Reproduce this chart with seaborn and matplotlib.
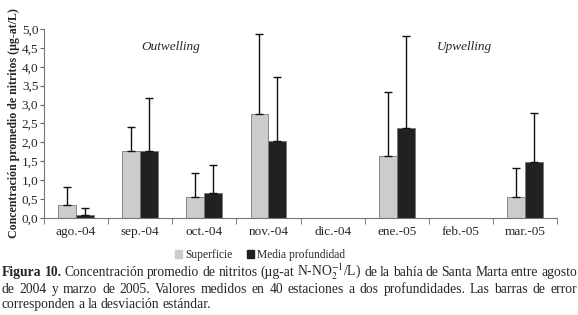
import numpy as np
import pandas as pd
import matplotlib
matplotlib.use("Agg")
import matplotlib.pyplot as plt
import seaborn as sns
from matplotlib.ticker import FixedLocator, FuncFormatter

# Data (dic.-04 and feb.-05 have no samples)
meses = ['ago.-04', 'sep.-04', 'oct.-04', 'nov.-04', 'dic.-04', 'ene.-05', 'feb.-05', 'mar.-05']
superficie = [0.35, 1.77, 0.55, 2.75, np.nan, 1.65, np.nan, 0.55]
superficie_de = [0.47, 0.63, 0.65, 2.12, np.nan, 1.69, np.nan, 0.77]
media = [0.08, 1.77, 0.67, 2.04, np.nan, 2.38, np.nan, 1.47]
media_de = [0.19, 1.40, 0.73, 1.70, np.nan, 2.44, np.nan, 1.32]
series = ['Superficie', 'Media profundidad']

df = pd.DataFrame({
    'mes': meses * 2,
    'valor': superficie + media,
    'serie': [series[0]] * len(meses) + [series[1]] * len(meses),
})

sns.set_style('white')
plt.rcParams['font.family'] = ['Liberation Serif', 'DejaVu Serif']
plt.rcParams['mathtext.fontset'] = 'stix'

fig = plt.figure(figsize=(5.78, 3.15), dpi=100)
ax = fig.add_axes([0.076, 0.308, 0.888, 0.6])

colores = {series[0]: '#cccccc', series[1]: '#231f20'}
sns.barplot(data=df, x='mes', y='valor', hue='serie', palette=colores,
            errorbar=None, width=0.56, gap=0, ax=ax, order=meses,
            hue_order=series, edgecolor='#777777', linewidth=0.6, legend=False)

# upper-only error bars, matched to bars by category position
for cont, de in zip(ax.containers, [superficie_de, media_de]):
    for bar in cont:
        h = bar.get_height()
        xc = bar.get_x() + bar.get_width() / 2
        i = int(round(xc))
        e = de[i]
        if np.isnan(h) or np.isnan(e):
            continue
        ax.errorbar(xc, h, yerr=[[0], [e]], fmt='none', ecolor='#111111',
                    elinewidth=1, capsize=3, capthick=1)

ax.set_ylim(0, 5.0)
ax.set_xlim(-0.5, len(meses) - 0.5)
ax.set_yticks(np.arange(0, 5.01, 0.5))
ax.yaxis.set_major_formatter(FuncFormatter(lambda v, p: f'{v:.1f}'.replace('.', ',')))
ax.xaxis.set_minor_locator(FixedLocator(np.arange(-0.5, len(meses), 1.0)))
ax.tick_params(axis='x', which='major', length=0, labelsize=9.5, pad=6)
ax.tick_params(axis='x', which='minor', length=4, color='#666666', direction='out')
ax.tick_params(axis='y', length=3, color='#666666', direction='out', labelsize=9.5, pad=1)
ax.tick_params(axis='both', bottom=True, left=True, which='both')
for s in ['top', 'right']:
    ax.spines[s].set_visible(False)
for s in ['left', 'bottom']:
    ax.spines[s].set_color('#777777')
    ax.spines[s].set_linewidth(0.8)

ax.set_xlabel('')
ax.set_ylabel('Concentración promedio de nitritos (µg-at/L)', fontsize=8.6,
              fontweight='bold', labelpad=1)

ax.text(1.47, 4.52, 'Outwelling', style='italic', fontsize=9.5, ha='center', va='center')
ax.text(6.05, 4.52, 'Upwelling', style='italic', fontsize=9.5, ha='center', va='center')

handles = [plt.Rectangle((0, 0), 1, 1, color=colores[s]) for s in series]
fig.legend(handles, series, loc='center', bbox_to_anchor=(0.45, 0.19), ncol=2,
           frameon=False, fontsize=8.3, handlelength=0.6, handleheight=0.6,
           handletextpad=0.3, columnspacing=1.2)

# caption, justified like the printed figure
fs = 9.8
W = fig.get_figwidth() * fig.dpi
x0 = 2
renderer = fig.canvas.get_renderer()


def linea(words, y, justify=True):
    arts = []
    for w, bold in words:
        t = fig.text(0, y, w, fontsize=fs, va='baseline',
                     fontweight='bold' if bold else 'normal')
        arts.append(t)
    widths = [t.get_window_extent(renderer).width for t in arts]
    gap = (W - x0 - 1 - sum(widths)) / (len(arts) - 1) if justify else fs * 0.3
    x = x0
    for t, wd in zip(arts, widths):
        t.set_x(x / W)
        x += wd + gap


l1 = [('Figura', True), ('10.', True)] + [(w, False) for w in
      'Concentración promedio de nitritos (µg-at N-NO$_2^{-1}$/L) de la bahía de Santa Marta entre agosto'.split(' ')]
l2 = [(w, False) for w in
      'de 2004 y marzo de 2005. Valores medidos en 40 estaciones a dos profundidades. Las barras de error'.split(' ')]
l3 = [(w, False) for w in 'corresponden a la desviación estándar.'.split(' ')]
linea(l1, 0.124)
linea(l2, 0.071)
linea(l3, 0.021, justify=False)

fig.savefig('out.png', dpi=100)
